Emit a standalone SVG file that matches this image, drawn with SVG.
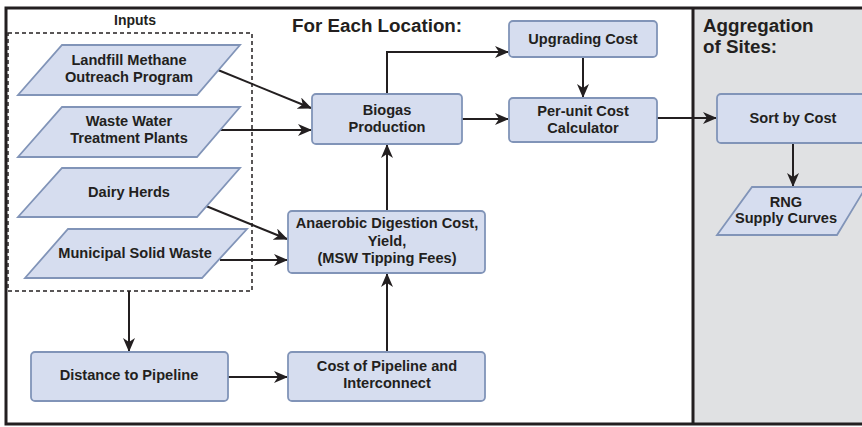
<svg xmlns="http://www.w3.org/2000/svg" width="862" height="427" viewBox="0 0 862 427">
<defs>
<marker id="arr" markerUnits="userSpaceOnUse" markerWidth="14" markerHeight="12" refX="13" refY="6" orient="auto">
<path d="M0,0 L14,6 L0,12 L4,6 z" fill="#231f20"/>
</marker>
<style>
.node{fill:#d6ddef;stroke:#8194b8;stroke-width:1.8}
.t{font-family:"Liberation Sans",Arial,sans-serif;font-weight:bold;font-size:14.6px;fill:#231f20;text-anchor:middle}
.h{font-family:"Liberation Sans",Arial,sans-serif;font-weight:bold;font-size:18.8px;fill:#231f20}
.c{fill:none;stroke:#231f20;stroke-width:2;marker-end:url(#arr)}
</style>
</defs>
<rect x="0" y="0" width="862" height="427" fill="#ffffff"/>
<rect x="693" y="8" width="169" height="417" fill="#e0e1e3"/>
<g id="frame" fill="none" stroke="#231f20" stroke-width="3">
<path d="M862,8 L6,8 L6,424 L862,424"/>
<line x1="693" y1="8" x2="693" y2="424"/>
</g>
<rect x="8" y="33" width="244" height="258" fill="none" stroke="#231f20" stroke-width="1.5" stroke-dasharray="4,3"/>
<text class="t" x="135" y="25" style="font-size:14px">Inputs</text>
<text class="h" x="292" y="32">For Each Location:</text>
<text class="h" x="703" y="32">Aggregation</text>
<text class="h" x="703" y="53">of Sites:</text>

<g id="connectors">
<line class="c" x1="218" y1="70" x2="311" y2="108"/>
<line class="c" x1="218" y1="130" x2="311" y2="130"/>
<polyline class="c" points="387,94 387,52 508,52"/>
<line class="c" x1="583" y1="57" x2="583" y2="97"/>
<line class="c" x1="462" y1="119" x2="508" y2="119"/>
<line class="c" x1="657" y1="118" x2="716" y2="118"/>
<line class="c" x1="793" y1="143" x2="793" y2="186"/>
<line class="c" x1="206" y1="206" x2="287" y2="239"/>
<line class="c" x1="220" y1="260" x2="287" y2="260"/>
<line class="c" x1="387" y1="211" x2="387" y2="145"/>
<line class="c" x1="387" y1="352" x2="387" y2="274"/>
<line class="c" x1="129" y1="291" x2="129" y2="351"/>
<line class="c" x1="228" y1="377" x2="287" y2="377"/>
</g>

<g id="landfill">
<polygon class="node" points="62,45 240,45 197,95 18,95"/>
<text class="t" x="129" y="65">Landfill Methane</text>
<text class="t" x="129" y="82">Outreach Program</text>
</g>
<g id="wastewater">
<polygon class="node" points="62,107 240,107 197,157 18,157"/>
<text class="t" x="129" y="126">Waste Water</text>
<text class="t" x="129" y="143">Treatment Plants</text>
</g>
<g id="dairy">
<polygon class="node" points="62,168 240,168 197,217 18,217"/>
<text class="t" x="129" y="197">Dairy Herds</text>
</g>
<g id="msw">
<polygon class="node" points="68,229 247,229 202,278 25,278"/>
<text class="t" x="135" y="258">Municipal Solid Waste</text>
</g>
<g id="biogas">
<rect class="node" x="312" y="94" width="150" height="50" rx="4"/>
<text class="t" x="387" y="115">Biogas</text>
<text class="t" x="387" y="132">Production</text>
</g>
<g id="upgrading">
<rect class="node" x="509" y="21" width="148" height="36" rx="4"/>
<text class="t" x="583" y="44">Upgrading Cost</text>
</g>
<g id="perunit">
<rect class="node" x="509" y="98" width="148" height="44" rx="4"/>
<text class="t" x="583" y="116">Per-unit Cost</text>
<text class="t" x="583" y="133">Calculator</text>
</g>
<g id="anaerobic">
<rect class="node" x="288" y="211" width="197" height="62" rx="4"/>
<text class="t" x="387" y="228">Anaerobic Digestion Cost,</text>
<text class="t" x="387" y="246">Yield,</text>
<text class="t" x="387" y="263">(MSW Tipping Fees)</text>
</g>
<g id="pipelinecost">
<rect class="node" x="288" y="352" width="197" height="49" rx="4"/>
<text class="t" x="387" y="371">Cost of Pipeline and</text>
<text class="t" x="387" y="388">Interconnect</text>
</g>
<g id="distance">
<rect class="node" x="31" y="352" width="197" height="49" rx="4"/>
<text class="t" x="129" y="380">Distance to Pipeline</text>
</g>
<g id="sort">
<rect class="node" x="717" y="94" width="150" height="49" rx="4"/>
<text class="t" x="793" y="123">Sort by Cost</text>
</g>
<g id="rng">
<polygon class="node" points="752,187 866,187 837,235 717,235"/>
<text class="t" x="786" y="207">RNG</text>
<text class="t" x="786" y="223">Supply Curves</text>
</g>
</svg>
